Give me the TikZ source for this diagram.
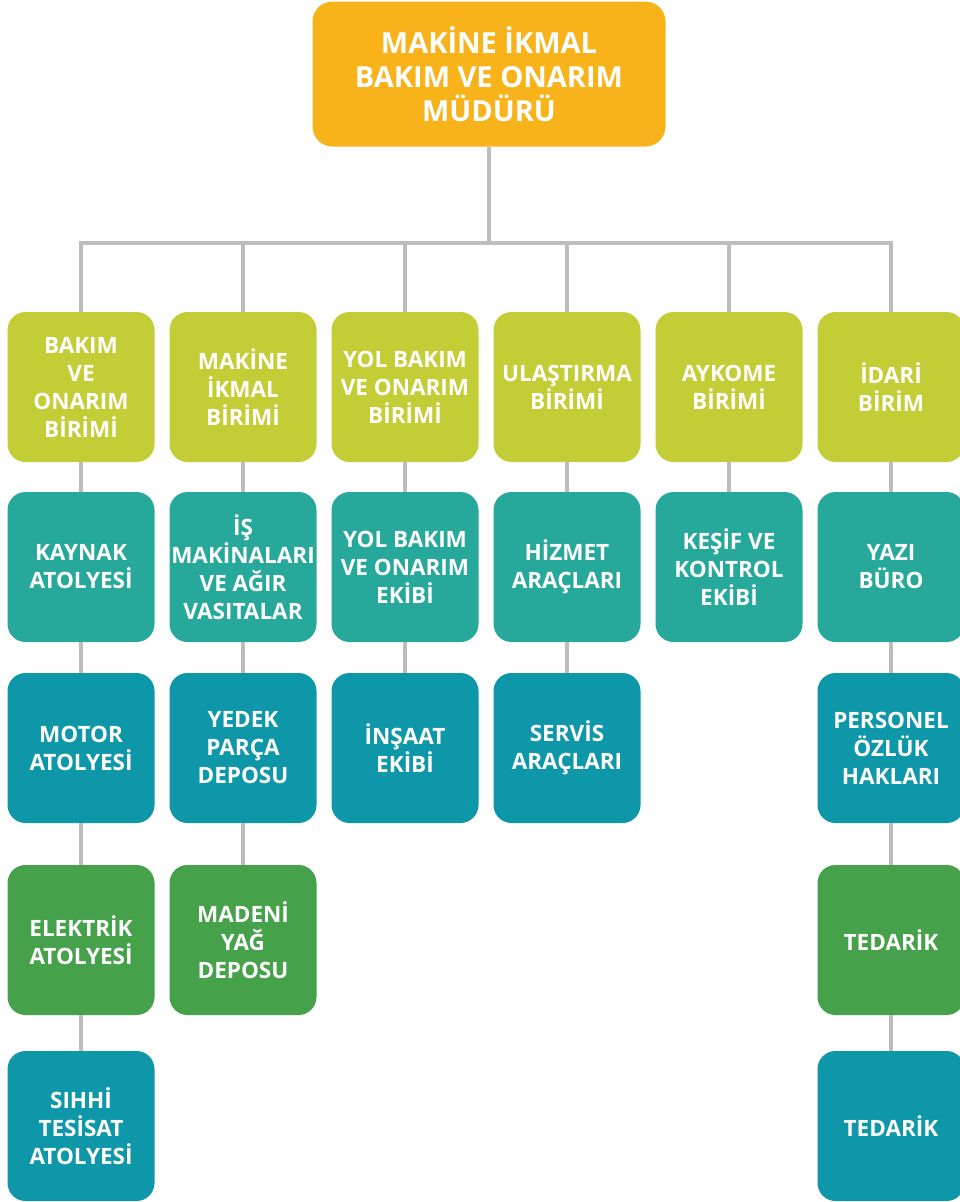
\documentclass[tikz,border=0pt]{standalone}
\usepackage{fontspec}
\setmainfont{Open Sans}
\usetikzlibrary{positioning}

\definecolor{mudurcol}{HTML}{F8B31A}
\definecolor{birimcol}{HTML}{C3CD36}
\definecolor{ekipcol}{HTML}{26A89A}
\definecolor{depocol}{HTML}{0E97A8}
\definecolor{atolcol}{HTML}{45A14A}
\definecolor{linkcol}{HTML}{BDBDBD}

\begin{document}
\begin{tikzpicture}[x=1pt,y=-1pt,
  unit/.style={rounded corners=18pt,minimum width=147pt,minimum height=150pt,
    inner sep=1pt,align=center,text=white,
    font=\fontsize{22.5}{28}\selectfont\bfseries},
  head/.style={unit,fill=mudurcol,minimum width=353pt,minimum height=145pt,
    rounded corners=20pt,font=\fontsize{29}{34}\selectfont\bfseries},
  birim/.style={unit,fill=birimcol},
  ekip/.style={unit,fill=ekipcol},
  depo/.style={unit,fill=depocol},
  atol/.style={unit,fill=atolcol},
  link/.style={draw=linkcol,line width=3.5pt}]
  \useasboundingbox (0,0) rectangle (960,1202);
  % top
  \node[head] (mudur) at (489,74) {MAKİNE İKMAL\\BAKIM VE ONARIM\\MÜDÜRÜ};
  \coordinate (hub) at (489,243);
  % first column
  \node[birim] (bo) at (81,387) {BAKIM\\VE\\ONARIM\\BİRİMİ};
  \node[ekip] (kaynak) at (81,567) {KAYNAK\\ATOLYESİ};
  \node[depo] (motor) at (81,748) {MOTOR\\ATOLYESİ};
  \node[atol] (elektrik) at (81,940) {ELEKTRİK\\ATOLYESİ};
  \node[depo] (sihhi) at (81,1126) {SIHHİ\\TESİSAT\\ATOLYESİ};
  % second column
  \node[birim] (mi) at (243,387) {MAKİNE\\İKMAL\\BİRİMİ};
  \node[ekip] (is) at (243,567) {İŞ\\MAKİNALARI\\VE AĞIR\\VASITALAR};
  \node[depo] (yedek) at (243,748) {YEDEK\\PARÇA\\DEPOSU};
  \node[atol] (maden) at (243,940) {MADENİ\\YAĞ\\DEPOSU};
  % third column
  \node[birim] (yol) at (405,387) {YOL BAKIM\\VE ONARIM\\BİRİMİ};
  \node[ekip] (yolekip) at (405,567) {YOL BAKIM\\VE ONARIM\\EKİBİ};
  \node[depo] (insaat) at (405,748) {İNŞAAT\\EKİBİ};
  % fourth column
  \node[birim] (ulas) at (567,387) {ULAŞTIRMA\\BİRİMİ};
  \node[ekip] (hizmet) at (567,567) {HİZMET\\ARAÇLARI};
  \node[depo] (servis) at (567,748) {SERVİS\\ARAÇLARI};
  % fifth column
  \node[birim] (aykome) at (729,387) {AYKOME\\BİRİMİ};
  \node[ekip] (kesif) at (729,567) {KEŞİF VE\\KONTROL\\EKİBİ};
  % sixth column
  \node[birim] (idari) at (891,387) {İDARİ\\BİRİM};
  \node[ekip] (yazi) at (891,567) {YAZI\\BÜRO};
  \node[depo] (personel) at (891,748) {PERSONEL\\ÖZLÜK\\HAKLARI};
  \node[atol] (tedarik) at (891,940) {TEDARİK};
  \node[depo] (tedarikb) at (891,1126) {TEDARİK};
  % links
  \draw[link] (mudur) -- (hub);
  \foreach \b in {bo,mi,yol,ulas,aykome,idari}
    \draw[link] (hub) -| (\b);
  \draw[link] (bo) -- (kaynak);
  \draw[link] (kaynak) -- (motor);
  \draw[link] (motor) -- (elektrik);
  \draw[link] (elektrik) -- (sihhi);
  \draw[link] (mi) -- (is);
  \draw[link] (is) -- (yedek);
  \draw[link] (yedek) -- (maden);
  \draw[link] (yol) -- (yolekip);
  \draw[link] (yolekip) -- (insaat);
  \draw[link] (ulas) -- (hizmet);
  \draw[link] (hizmet) -- (servis);
  \draw[link] (aykome) -- (kesif);
  \draw[link] (idari) -- (yazi);
  \draw[link] (yazi) -- (personel);
  \draw[link] (personel) -- (tedarik);
  \draw[link] (tedarik) -- (tedarikb);
\end{tikzpicture}
\end{document}
